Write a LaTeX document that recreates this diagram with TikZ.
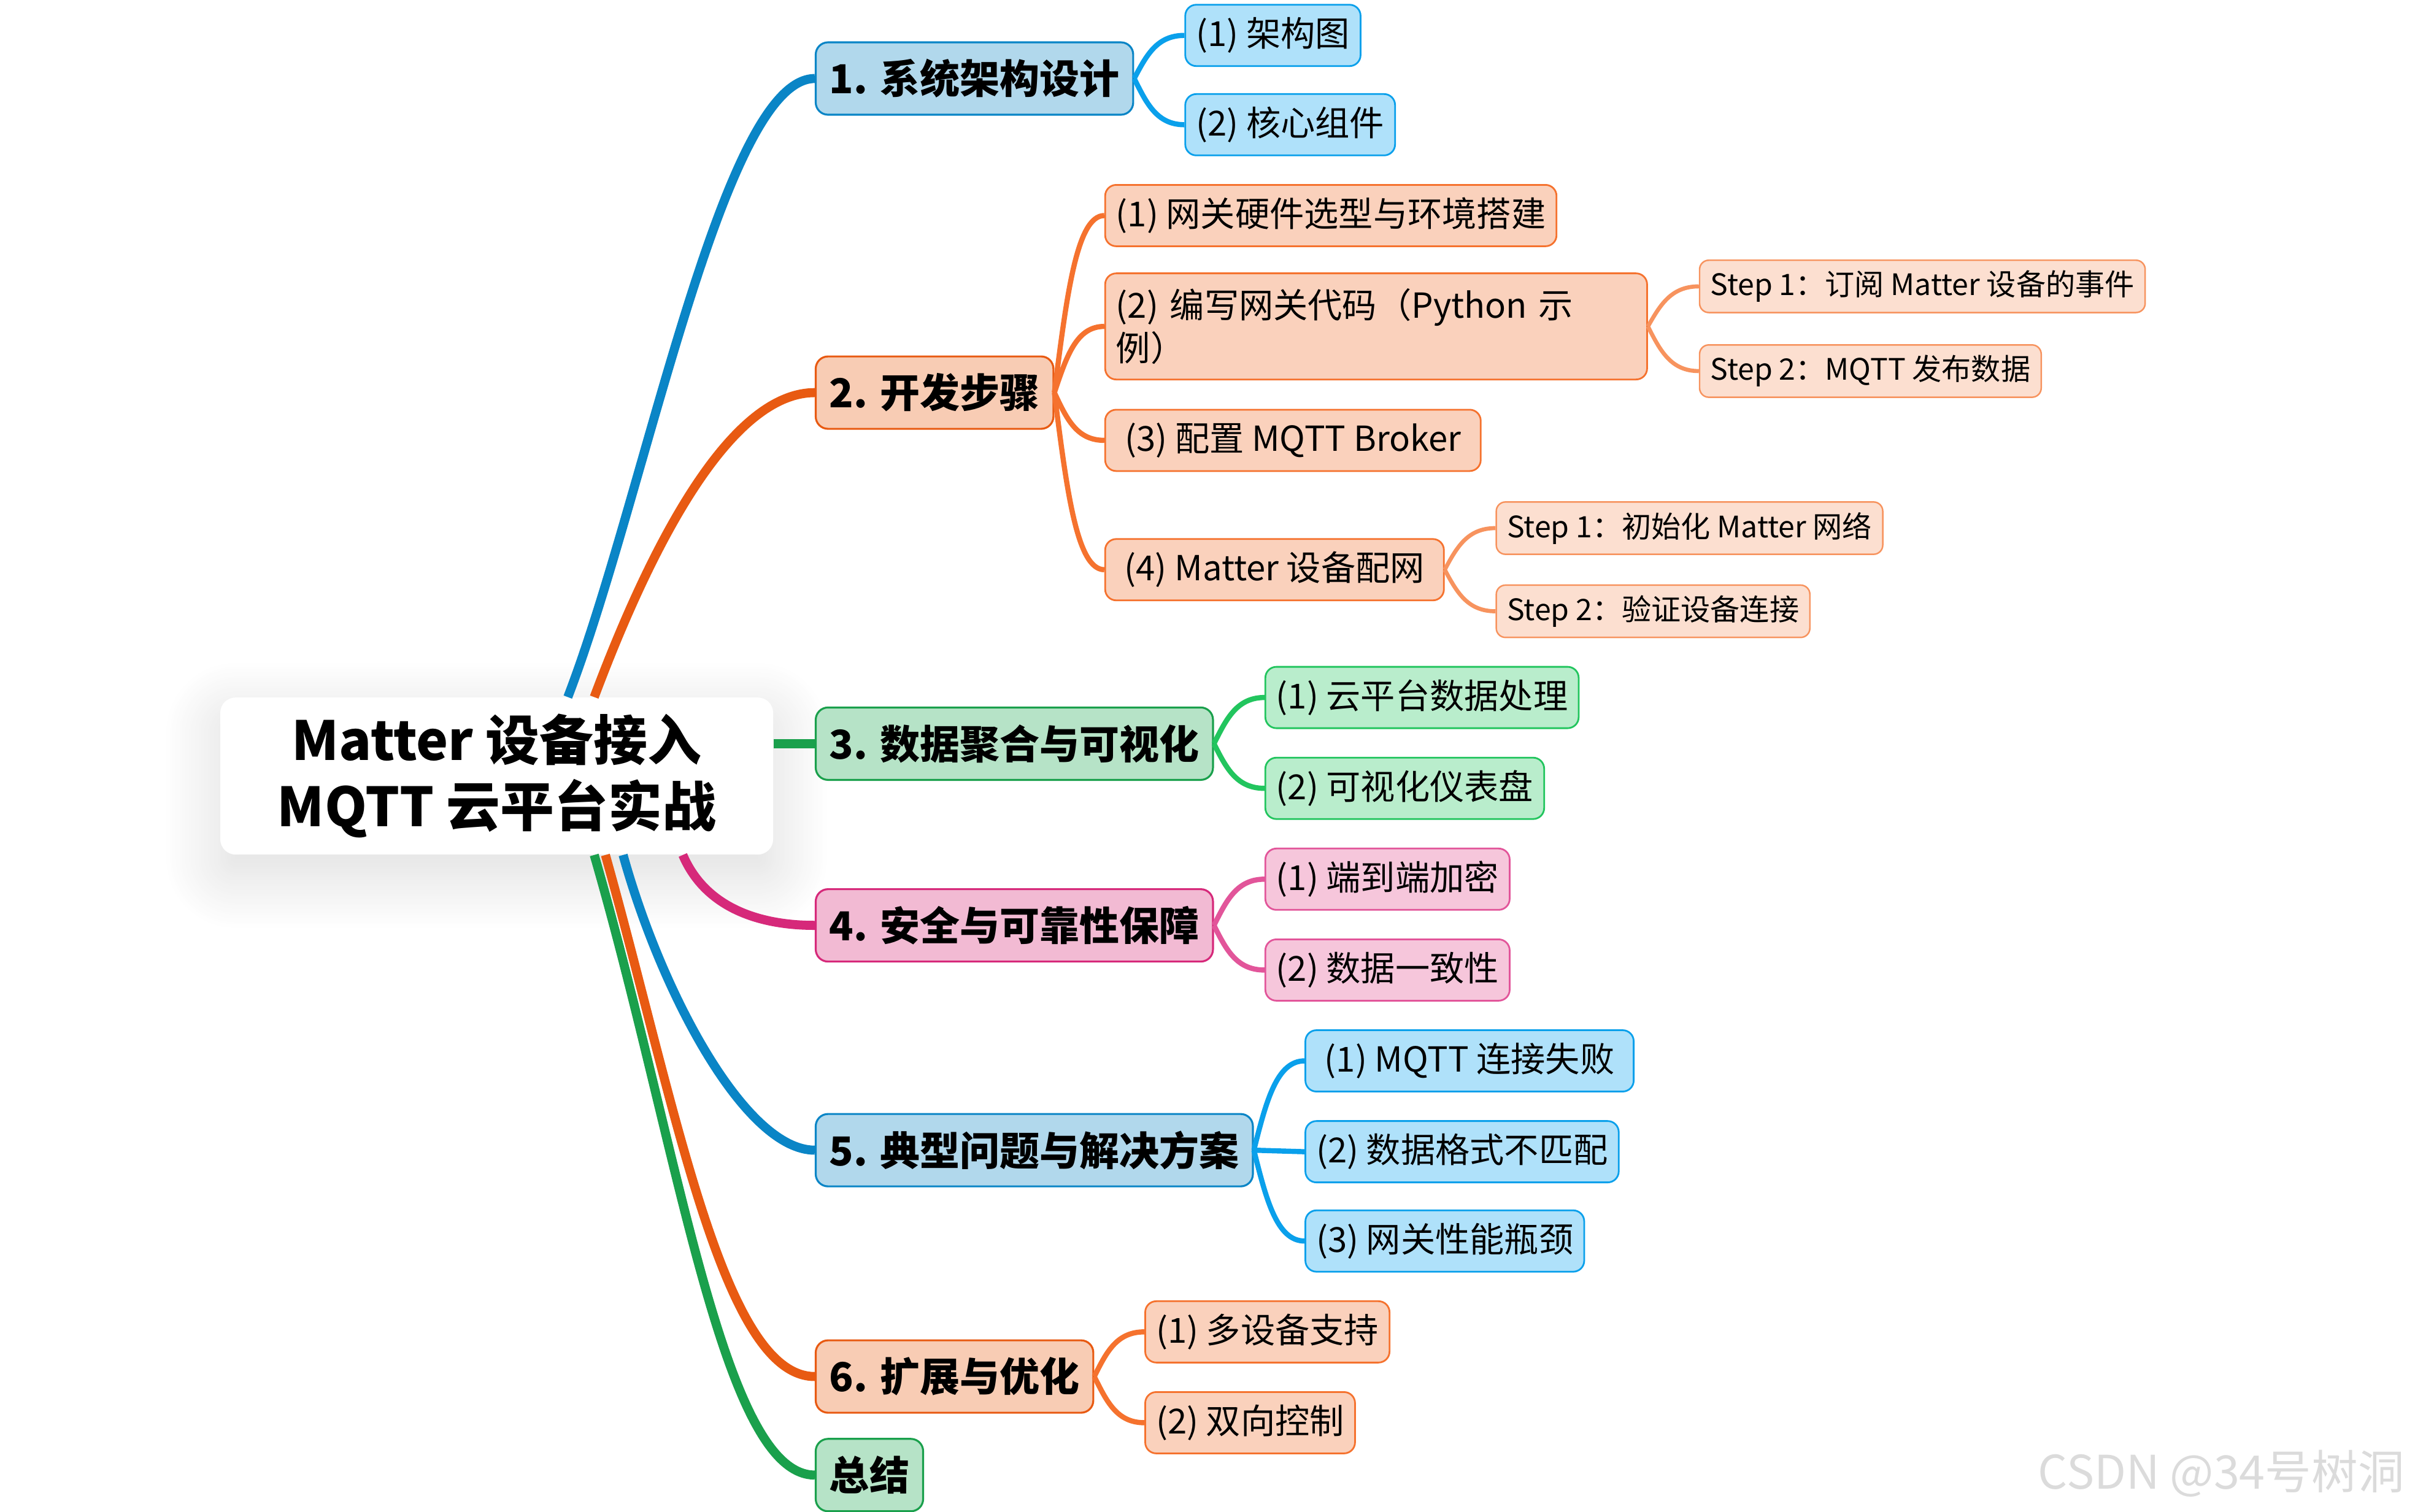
\documentclass[tikz,border=0pt]{standalone}
\usepackage{fontspec}
\setmainfont{Noto Sans CJK SC}
\usetikzlibrary{shadows.blur,calc}
\definecolor{bluedark}{HTML}{0A85C6}
\definecolor{bluefill}{HTML}{B1D8EC}
\definecolor{bluelight}{HTML}{0AA0EB}
\definecolor{bluepale}{HTML}{AFE1FA}
\definecolor{orangedark}{HTML}{E85A12}
\definecolor{orangefill}{HTML}{F8CCB4}
\definecolor{orangelight}{HTML}{F5722E}
\definecolor{orangepale}{HTML}{FAD1BC}
\definecolor{orangesoft}{HTML}{F7935E}
\definecolor{orangewhite}{HTML}{FCDFD0}
\definecolor{greendark}{HTML}{1AA04C}
\definecolor{greenfill}{HTML}{B6E3C7}
\definecolor{greenlight}{HTML}{22C55E}
\definecolor{greenpale}{HTML}{B9EDCC}
\definecolor{pinkdark}{HTML}{D6297A}
\definecolor{pinkfill}{HTML}{F2BAD3}
\definecolor{pinklight}{HTML}{E2559A}
\definecolor{pinkpale}{HTML}{F6C6DB}
\begin{document}
\begin{tikzpicture}[x=0.0251cm,y=0.0251cm,
  topic/.style={draw,anchor=west,rounded corners=0.2cm,line width=0.9pt,minimum height=1.18cm,inner xsep=6.4pt,font=\fontsize{18.5}{22}\selectfont\bfseries},
  subtopic/.style={draw,anchor=west,rounded corners=0.18cm,line width=0.8pt,minimum height=1.0cm,inner xsep=5pt,font=\fontsize{16}{20}\selectfont},
  detail/.style={draw,anchor=west,rounded corners=0.15cm,line width=0.7pt,minimum height=0.853cm,inner xsep=5pt,font=\fontsize{13.7}{16}\selectfont},
  branch/.style={line width=4.2pt},
  twig/.style={line width=2.4pt},
  leaf/.style={line width=1.9pt}]
\useasboundingbox (0,0) rectangle (1568,-981.6);

\node[fill=white,rounded corners=0.25cm,minimum width=9.01cm,minimum height=2.56cm,align=center,
  blur shadow={shadow xshift=0pt,shadow yshift=-9pt,shadow blur radius=26pt,shadow blur steps=30,shadow opacity=14},
  font=\fontsize{25}{30.7}\selectfont\bfseries] (root) at (322.5,-504) {Matter 设备接入\\MQTT 云平台实战};

\node[topic,fill=bluefill,draw=bluedark] (arch) at (529,-51) {1. 系统架构设计};
\node[topic,fill=orangefill,draw=orangedark] (dev) at (529,-255) {2. 开发步骤};
\node[topic,fill=greenfill,draw=greendark] (data) at (529,-483) {3. 数据聚合与可视化};
\node[topic,fill=pinkfill,draw=pinkdark] (safe) at (529,-601) {4. 安全与可靠性保障};
\node[topic,fill=bluefill,draw=bluedark] (issue) at (529,-747) {5. 典型问题与解决方案};
\node[topic,fill=orangefill,draw=orangedark] (ext) at (529,-894) {6. 扩展与优化};
\node[topic,fill=greenfill,draw=greendark] (sum) at (529,-958) {总结};

\node[subtopic,fill=bluepale,draw=bluelight] (arch1) at (769,-23) {(1) 架构图};
\node[subtopic,fill=bluepale,draw=bluelight] (arch2) at (769,-81) {(2) 核心组件};
\node[subtopic,fill=orangepale,draw=orangelight] (dev1) at (717,-140) {(1) 网关硬件选型与环境搭建};
\node[subtopic,fill=orangepale,draw=orangelight,text width=8.48cm,align=left,minimum height=1.73cm] (dev2) at (717,-212) {(2) 编写网关代码（Python 示\\例）};
\node[subtopic,fill=orangepale,draw=orangelight,minimum width=6.12cm] (dev3) at (717,-286) {(3) 配置 MQTT Broker};
\node[subtopic,fill=orangepale,draw=orangelight,minimum width=5.52cm] (dev4) at (717,-370) {(4) Matter 设备配网};
\node[subtopic,fill=greenpale,draw=greenlight] (data1) at (821,-453) {(1) 云平台数据处理};
\node[subtopic,fill=greenpale,draw=greenlight] (data2) at (821,-512) {(2) 可视化仪表盘};
\node[subtopic,fill=pinkpale,draw=pinklight] (safe1) at (821,-571) {(1) 端到端加密};
\node[subtopic,fill=pinkpale,draw=pinklight] (safe2) at (821,-630) {(2) 数据一致性};
\node[subtopic,fill=bluepale,draw=bluelight,minimum width=5.35cm] (issue1) at (847,-689) {(1) MQTT 连接失败};
\node[subtopic,fill=bluepale,draw=bluelight] (issue2) at (847,-748) {(2) 数据格式不匹配};
\node[subtopic,fill=bluepale,draw=bluelight] (issue3) at (847,-806) {(3) 网关性能瓶颈};
\node[subtopic,fill=orangepale,draw=orangelight] (ext1) at (743,-865) {(1) 多设备支持};
\node[subtopic,fill=orangepale,draw=orangelight] (ext2) at (743,-924) {(2) 双向控制};

\node[detail,fill=orangewhite,draw=orangesoft] (dev21) at (1103,-186) {Step 1：订阅 Matter 设备的事件};
\node[detail,fill=orangewhite,draw=orangesoft] (dev22) at (1103,-241) {Step 2：MQTT 发布数据};
\node[detail,fill=orangewhite,draw=orangesoft] (dev41) at (971,-343) {Step 1：初始化 Matter 网络};
\node[detail,fill=orangewhite,draw=orangesoft] (dev42) at (971,-397) {Step 2：验证设备连接};

\node[anchor=east,text=gray!28,font=\fontsize{21.5}{24}\selectfont] (mark) at (1566,-957) {CSDN @34号树洞};

\draw[branch,bluedark] (root.48.6) .. controls +(50,130) and +(-60,0) .. (arch.west);
\draw[branch,orangedark] (root.39) .. controls +(30,80) and +(-60,0) .. (dev.west);
\draw[branch,greendark] (root.east |- data.west) -- (data.west);
\draw[branch,pinkdark] (root.-23.4) .. controls +(15,-35) and +(-35,0) .. (safe.west);
\draw[branch,bluedark] (root.-32.2) .. controls +(25,-90) and +(-45,0) .. (issue.west);
\draw[branch,orangedark] (root.-36.1) .. controls +(45,-160) and +(-60,0) .. (ext.west);
\draw[branch,greendark] (root.-39) .. controls +(55,-190) and +(-60,0) .. (sum.west);

\draw[twig,bluelight] (arch.east) .. controls +(8,15) and +(-18,0) .. (arch1.west);
\draw[twig,bluelight] (arch.east) .. controls +(8,-16) and +(-18,0) .. (arch2.west);
\draw[twig,orangelight] (dev.east) .. controls +(8,63) and +(-18,0) .. (dev1.west);
\draw[twig,orangelight] (dev.east) .. controls +(8,24) and +(-18,0) .. (dev2.west);
\draw[twig,orangelight] (dev.east) .. controls +(8,-17) and +(-18,0) .. (dev3.west);
\draw[twig,orangelight] (dev.east) .. controls +(8,-63) and +(-18,0) .. (dev4.west);
\draw[twig,greenlight] (data.east) .. controls +(8,16) and +(-18,0) .. (data1.west);
\draw[twig,greenlight] (data.east) .. controls +(8,-16) and +(-18,0) .. (data2.west);
\draw[twig,pinklight] (safe.east) .. controls +(8,16) and +(-18,0) .. (safe1.west);
\draw[twig,pinklight] (safe.east) .. controls +(8,-16) and +(-18,0) .. (safe2.west);
\draw[twig,bluelight] (issue.east) .. controls +(8,32) and +(-18,0) .. (issue1.west);
\draw[twig,bluelight] (issue.east) -- (issue2.west);
\draw[twig,bluelight] (issue.east) .. controls +(8,-32) and +(-18,0) .. (issue3.west);
\draw[twig,orangelight] (ext.east) .. controls +(8,16) and +(-18,0) .. (ext1.west);
\draw[twig,orangelight] (ext.east) .. controls +(8,-16) and +(-18,0) .. (ext2.west);

\draw[leaf,orangesoft] (dev2.east) .. controls +(8,14) and +(-18,0) .. (dev21.west);
\draw[leaf,orangesoft] (dev2.east) .. controls +(8,-16) and +(-18,0) .. (dev22.west);
\draw[leaf,orangesoft] (dev4.east) .. controls +(8,15) and +(-18,0) .. (dev41.west);
\draw[leaf,orangesoft] (dev4.east) .. controls +(8,-15) and +(-18,0) .. (dev42.west);
\end{tikzpicture}
\end{document}
